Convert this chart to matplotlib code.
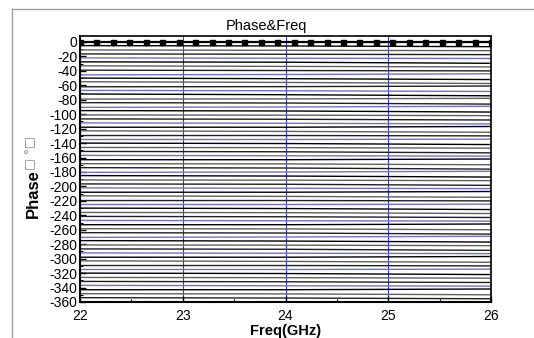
import matplotlib
matplotlib.use("Agg")
import matplotlib.pyplot as plt
from matplotlib.lines import Line2D
from matplotlib.ticker import MultipleLocator

plt.rcParams['font.family'] = ['Liberation Sans', 'DejaVu Sans']
plt.rcParams['axes.unicode_minus'] = False

# reference (0 deg) state with markers
ref_freq = [22.00, 22.16, 22.32, 22.48, 22.64, 22.80, 22.96, 23.12, 23.28, 23.44,
            23.60, 23.76, 23.92, 24.08, 24.24, 24.40, 24.56, 24.72, 24.88, 25.04,
            25.20, 25.36, 25.52, 25.68, 25.84, 26.00]
ref_phase = [0] * 26

# other phase states: value at 22, 24, 26 GHz
freq_pts = [22, 24, 26]
phase_start = [
    -5.0, -11.0, -16.5, -22.0, -27.5, -33.0, -39.0, -45.5, -50.0, -55.0,
    -62.0, -67.0, -72.0, -79.0, -84.0, -90.5, -95.0, -101.0, -106.5, -112.0,
    -118.0, -123.0, -129.5, -135.0, -140.0, -146.0, -151.5, -157.0, -163.0, -168.5,
    -174.0, -180.5, -185.0, -191.0, -196.5, -202.0, -208.0, -213.0, -219.5, -225.0,
    -230.0, -236.0, -241.5, -247.0, -253.0, -258.5, -264.0, -270.5, -275.0, -281.0,
    -286.5, -292.0, -298.0, -303.0, -309.5, -315.0, -320.0, -326.0, -331.5, -337.0,
    -343.0, -348.5, -354.0]
phase_mid = [
    -5.5, -11.5, -17.0, -22.5, -28.0, -33.8, -39.5, -45.0, -50.8, -56.0,
    -61.8, -67.5, -73.0, -78.8, -84.5, -90.0, -95.5, -101.3, -107.0, -112.5,
    -118.0, -123.8, -129.5, -135.0, -140.6, -146.3, -152.0, -157.5, -163.0, -168.8,
    -174.5, -180.0, -185.6, -191.3, -197.0, -202.5, -208.0, -213.8, -219.5, -225.0,
    -230.6, -236.3, -242.0, -247.5, -253.0, -258.8, -264.5, -270.0, -275.6, -281.3,
    -287.0, -292.5, -298.0, -303.8, -309.5, -315.0, -320.6, -326.3, -332.0, -337.5,
    -343.0, -348.8, -354.5]
phase_end = [
    -6.5, -12.0, -17.5, -22.8, -29.5, -34.5, -40.0, -44.0, -52.0, -57.5,
    -61.0, -68.5, -74.5, -78.0, -86.0, -89.0, -97.0, -102.0, -108.0, -113.5,
    -117.0, -125.0, -130.0, -134.5, -142.0, -147.0, -153.5, -158.0, -162.0, -170.0,
    -176.0, -179.0, -187.0, -192.0, -198.5, -203.0, -207.0, -215.0, -220.0, -224.5,
    -232.0, -237.5, -243.0, -248.0, -252.0, -260.0, -266.0, -269.0, -277.0, -282.0,
    -288.5, -293.0, -297.0, -305.0, -310.0, -314.5, -322.0, -327.0, -333.0, -338.0,
    -342.0, -350.0, -355.5]

W, H = 534, 338
fig = plt.figure(figsize=(W / 100, H / 100), dpi=100)
fig.patch.set_facecolor('white')

ax = fig.add_axes([80 / W, 1 - 302 / H, (491 - 80) / W, (302 - 36) / H])

grays = ['black', '#606060', '#202020', '#8a8a8a']
for i in range(len(phase_start)):
    k = i + 1
    if k % 4 == 0:
        c, lw = '#7070d0', 1.0
    else:
        c, lw = grays[i % 4], 1.0
    ax.plot(freq_pts, [phase_start[i], phase_mid[i], phase_end[i]],
            color=c, lw=lw, solid_capstyle='butt')

ax.plot(ref_freq, ref_phase, color='black', lw=1.6, marker='s', ms=3.6,
        clip_on=True, zorder=5)

for xv in [23, 24, 25]:
    ax.axvline(xv, color='#3a3ad0', lw=0.8, zorder=1)

ax.set_xlim(22, 26)
ax.set_ylim(-360, 8.3)
ax.xaxis.set_major_locator(MultipleLocator(1))
ax.xaxis.set_minor_locator(MultipleLocator(0.5))
ax.yaxis.set_major_locator(MultipleLocator(20))
ax.yaxis.set_minor_locator(MultipleLocator(10))
ax.tick_params(axis='both', which='both', direction='in', color='black')
ax.tick_params(axis='both', which='major', length=4, width=1, labelsize=10)
ax.tick_params(axis='both', which='minor', length=2.5, width=0.8)
ax.tick_params(axis='y', pad=2)
ax.tick_params(axis='x', pad=5)
for s in ax.spines.values():
    s.set_linewidth(1.2)
ax.spines['left'].set_linewidth(1.5)
ax.spines['bottom'].set_linewidth(1.5)

ax.set_xlabel('Freq(GHz)', fontsize=10.5, fontweight='bold', labelpad=1)

# title
fig.text(266 / W, 1 - 26 / H, 'Phase&Freq', ha='center', va='center', fontsize=10.5)

# y label
fig.text(33 / W, 1 - 194 / H, 'Phase', rotation=90, ha='center', va='center',
         fontsize=12, fontweight='bold')
fig.text(31 / W, 1 - 153 / H, '□ °□', rotation=90, ha='center', va='center',
         fontsize=9, color='#888888', family=['DejaVu Sans'])

# outer gray frame
fig.add_artist(Line2D([12 / W, 1], [1 - 9 / H, 1 - 9 / H], color='#a0a0a0', lw=1,
                      transform=fig.transFigure))
fig.add_artist(Line2D([12 / W, 12 / W], [0, 1 - 9 / H], color='#a0a0a0', lw=1,
                      transform=fig.transFigure))

fig.savefig('out.png', dpi=100)
